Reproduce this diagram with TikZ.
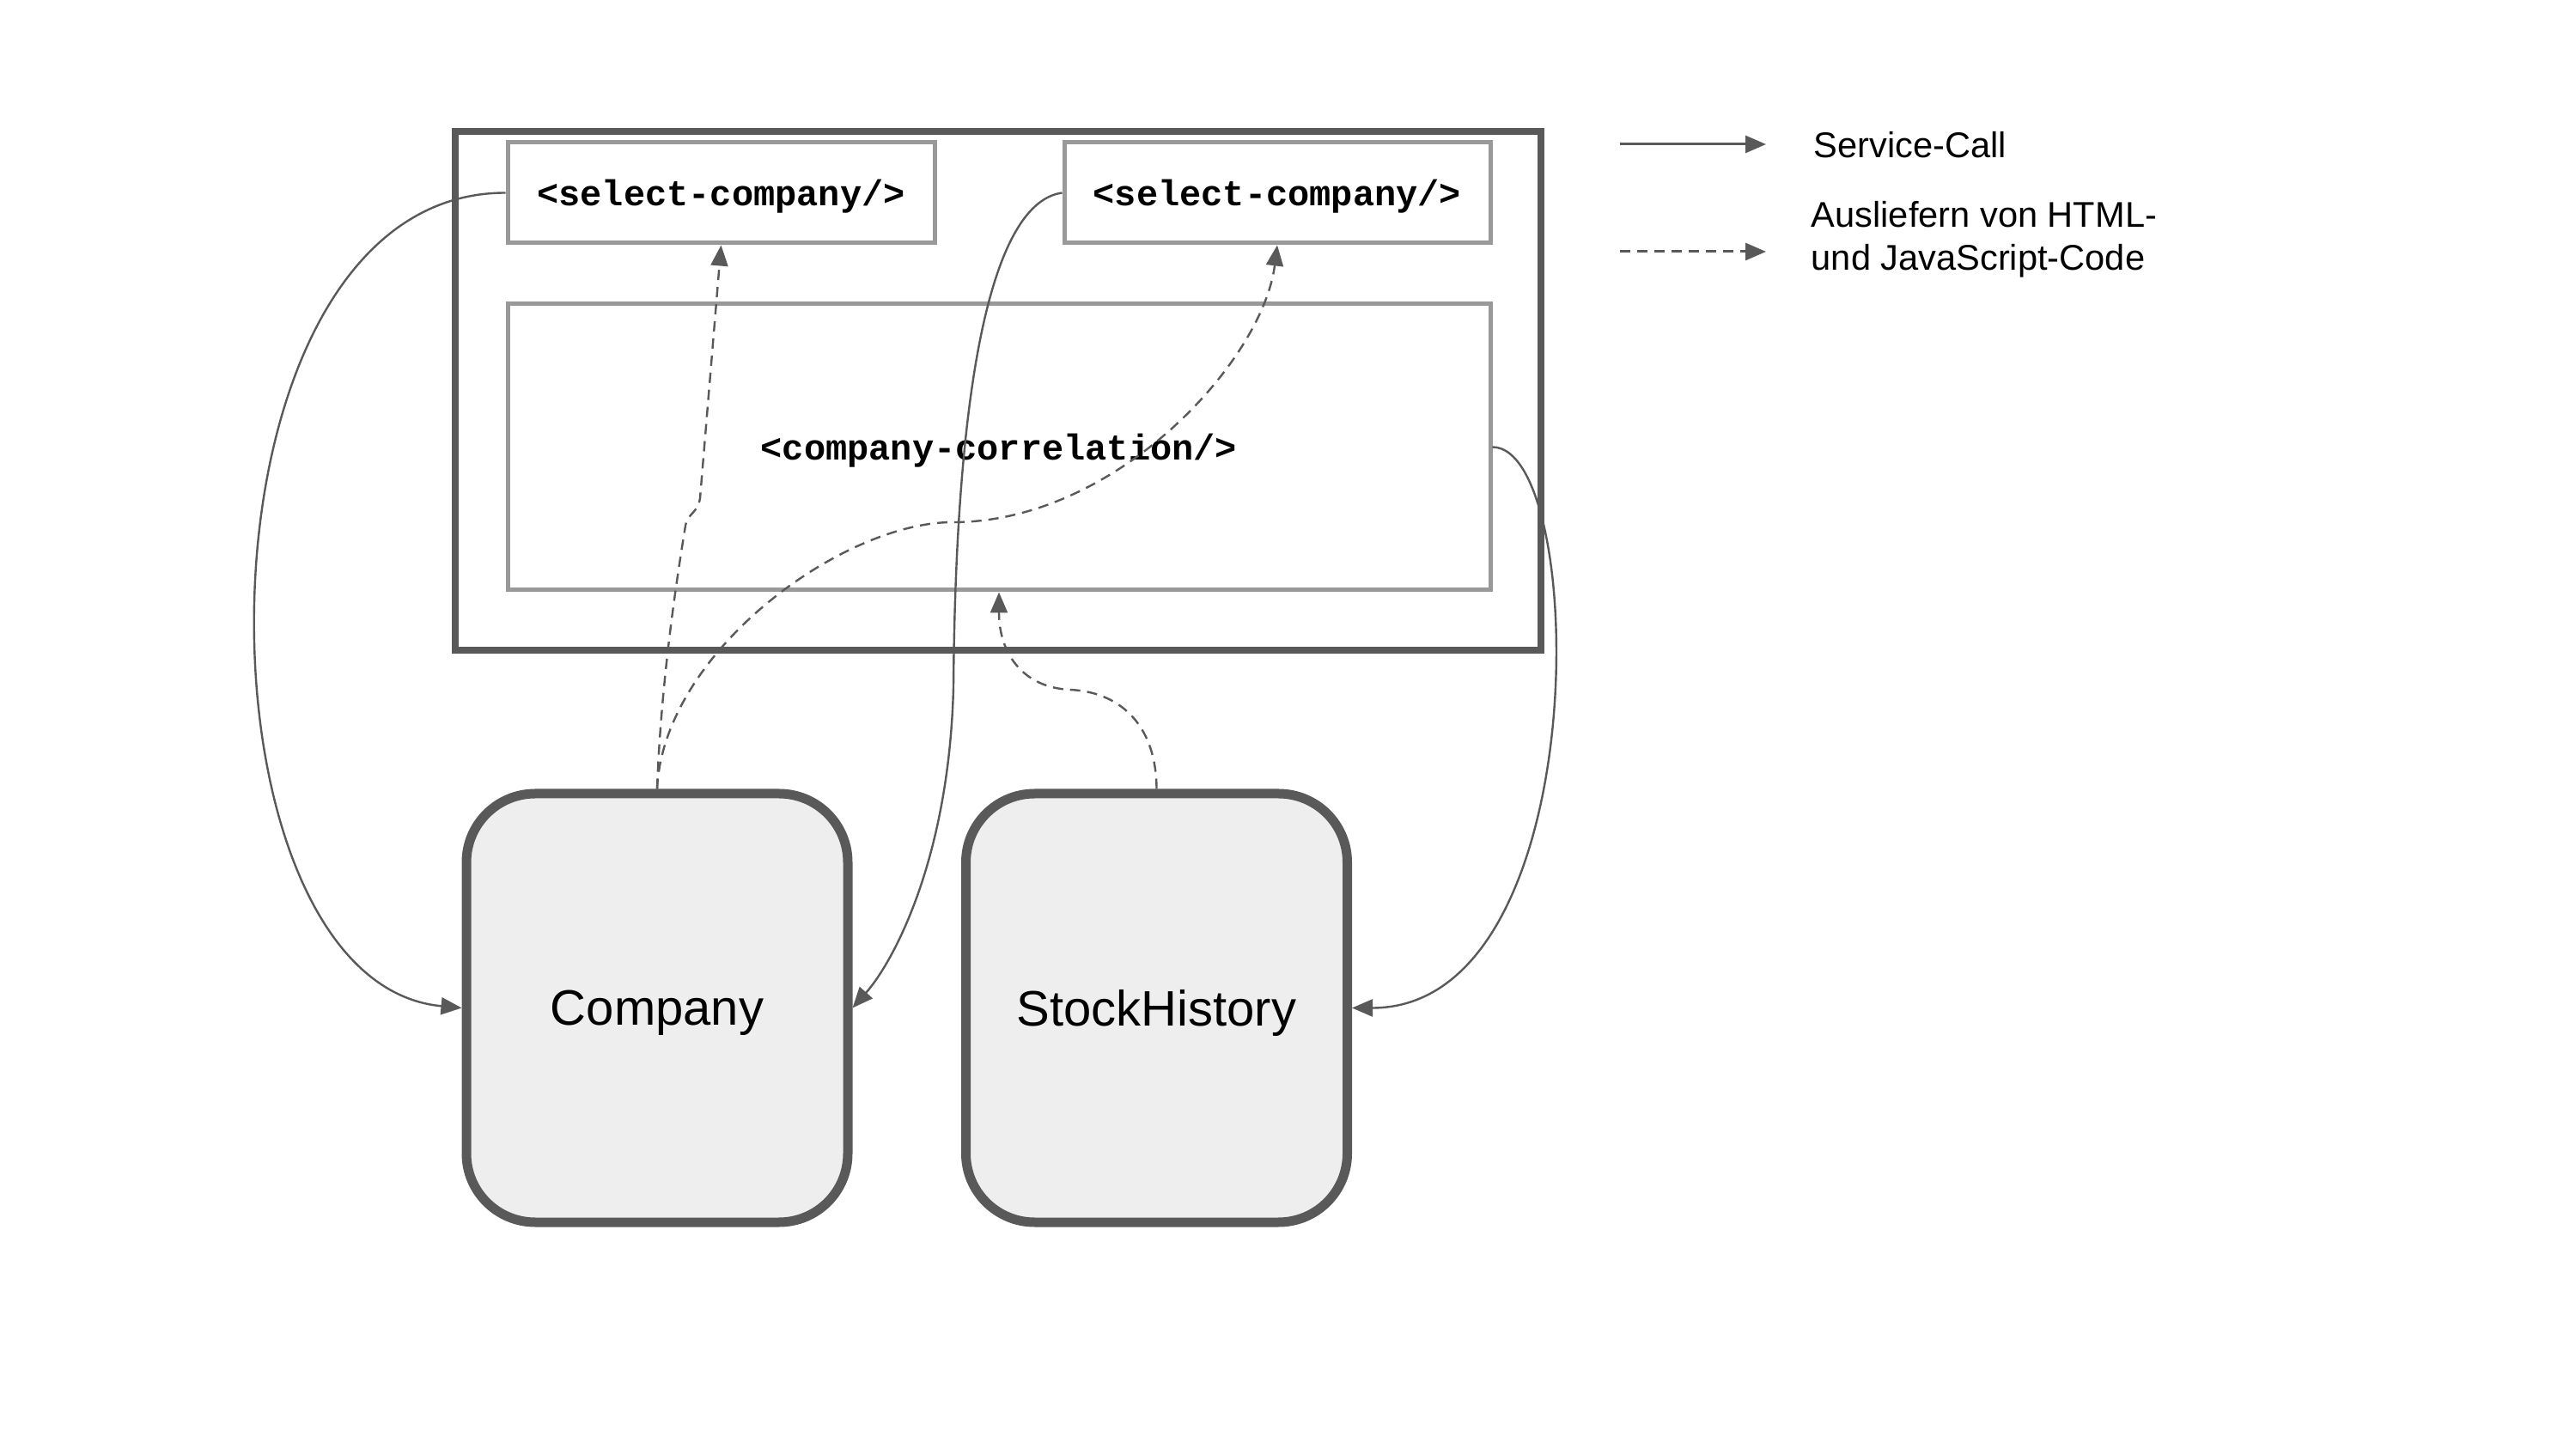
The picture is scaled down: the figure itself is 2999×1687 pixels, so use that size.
\documentclass[tikz,border=0pt]{standalone}
\usepackage{fontspec}
\setmainfont{Liberation Sans}
\newfontfamily\codefont{Liberation Mono}
\usetikzlibrary{arrows.meta}
\definecolor{linegray}{HTML}{595959}
\definecolor{boxgray}{HTML}{999999}
\definecolor{svcfill}{HTML}{EEEEEE}
\tikzset{
  outerbox/.style={draw=linegray, line width=2pt, minimum width=316pt, minimum height=151pt, inner sep=0pt},
  codebox/.style={draw=boxgray, line width=1.25pt, fill=white, inner sep=0pt, text depth=0pt,
    font=\codefont\bfseries\fontsize{10.5}{12.6}\selectfont},
  svcbox/.style={draw=linegray, line width=2.75pt, fill=svcfill, rounded corners=20pt,
    minimum width=111pt, minimum height=124.75pt, inner sep=0pt, text depth=0pt,
    font=\fontsize{14.5}{17.4}\selectfont},
  legendtext/.style={anchor=west, align=left, inner sep=0pt, font=\fontsize{10.4}{12.5}\selectfont},
  tip/.style={-{Triangle[length=6pt,width=5pt]}},
  svccall/.style={draw=linegray, line width=0.6pt, tip},
  delivery/.style={draw=linegray, line width=0.6pt, dash pattern=on 3pt off 2pt, tip},
}
\begin{document}
\begin{tikzpicture}[x=0.25pt,y=-0.25pt]
\fill[white] (0,0) rectangle (2999,1687);
\useasboundingbox (0,0) rectangle (2999,1687);

% frame and components
\node[outerbox] (outer) at (1162,455) {};
\node[codebox, minimum width=124.25pt, minimum height=29.25pt] (sel1) at (839.5,224.5) {<select-company/>};
\node[codebox, minimum width=124pt, minimum height=29.25pt] (sel2) at (1487,224.5) {<select-company/>};
\node[codebox, minimum width=286pt, minimum height=83.25pt] (corr) at (1163,520.5) {<company-correlation/>};

% services
\node[svcbox] (company) at (765,1173.5) {Company};
\node[svcbox] (stock) at (1346.5,1173.5) {StockHistory};

% service calls
\draw[svccall] (sel1.west) .. controls +(-378,0) and +(-325,-30) .. (company.west);
\draw[svccall] (sel2.west) .. controls (1160,235) and (1113,420) .. (1110,800)
   .. controls (1105,1000) and (1040,1120) .. (company.east);
\draw[svccall] (corr.east) .. controls +(112,0) and +(285,0) .. (stock.east);

% delivery of HTML / JS
\draw[delivery] (company.north) .. controls (770,780) and (792,650) .. (798,612)
   .. controls (801,597) and (812,598) .. (815,580) -- (sel1.south);
\draw[delivery] (company.north) .. controls (772,760) and (980,608) .. (1109,608)
   .. controls (1300,608) and (1470,420) .. (sel2.south);
\draw[delivery] (stock.north) .. controls (1346,840) and (1300,805) .. (1245,803)
   .. controls (1190,800) and (1163,760) .. (corr.south);

% legend
\coordinate (l1s) at (1886,168);
\coordinate (l1e) at (2056,168);
\coordinate (l2s) at (1886,293);
\coordinate (l2e) at (2056,293);
\draw[svccall, line width=0.75pt] (l1s) -- (l1e);
\draw[delivery, line width=0.75pt] (l2s) -- (l2e);
\node[legendtext] (leg1) at (2111,169) {Service-Call};
\node[legendtext] (leg2) at (2108,279) {Ausliefern von HTML-\\und JavaScript-Code};
\end{tikzpicture}
\end{document}
